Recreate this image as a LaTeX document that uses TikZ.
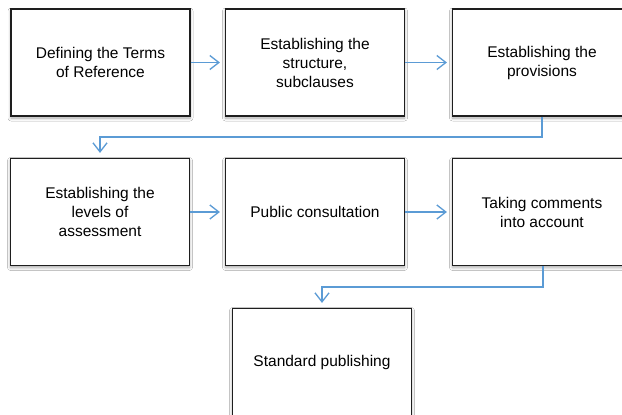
\documentclass[tikz,border=0pt]{standalone}
\usepackage{fontspec}
\setmainfont{Liberation Sans}
\usetikzlibrary{arrows.meta,shadows.blur}
\definecolor{linkblue}{RGB}{91,155,213}
\definecolor{boxline}{RGB}{30,30,30}
\tikzset{
  stepbox/.style={draw=boxline, line width=1.2pt, fill=white,
    minimum width=179pt, minimum height=107pt, inner sep=0pt,
    align=center, font=\fontsize{15.5}{19}\selectfont,
    blur shadow={shadow blur steps=6, shadow xshift=0pt, shadow yshift=-2pt, shadow blur radius=3pt, shadow opacity=35}},
  link/.style={draw=linkblue, line width=1.3pt,
    -{Straight Barb[length=9pt,width=14pt,line width=1.3pt]}, shorten >=5pt}
}
\begin{document}
\begin{tikzpicture}[x=1pt,y=-1pt]
\useasboundingbox (0,0) rectangle (622,415);
\fill[white] (0,0) rectangle (622,415);
\node[stepbox] (b1) at (100.5,62.5) {Defining the Terms\\of Reference};
\node[stepbox] (b2) at (315,62.5) {Establishing the\\structure,\\subclauses};
\node[stepbox] (b3) at (542,62.5) {Establishing the\\provisions};
\node[stepbox] (b4) at (100,212) {Establishing the\\levels of\\assessment};
\node[stepbox] (b5) at (315,212) {Public consultation};
\node[stepbox] (b6) at (542,212) {Taking comments\\into account};
\node[stepbox] (b7) at (322,362) {Standard publishing};
\coordinate (c1) at (542,137);
\coordinate (c2) at (543,287);
\draw[link] (b1) -- (b2);
\draw[link] (b2) -- (b3);
\draw[link] (b3.south) -- (c1) -| (b4.north);
\draw[link] (b4) -- (b5);
\draw[link] (b5) -- (b6);
\draw[link] (b6.south -| c2) -- (c2) -| (b7.north);
\end{tikzpicture}
\end{document}
